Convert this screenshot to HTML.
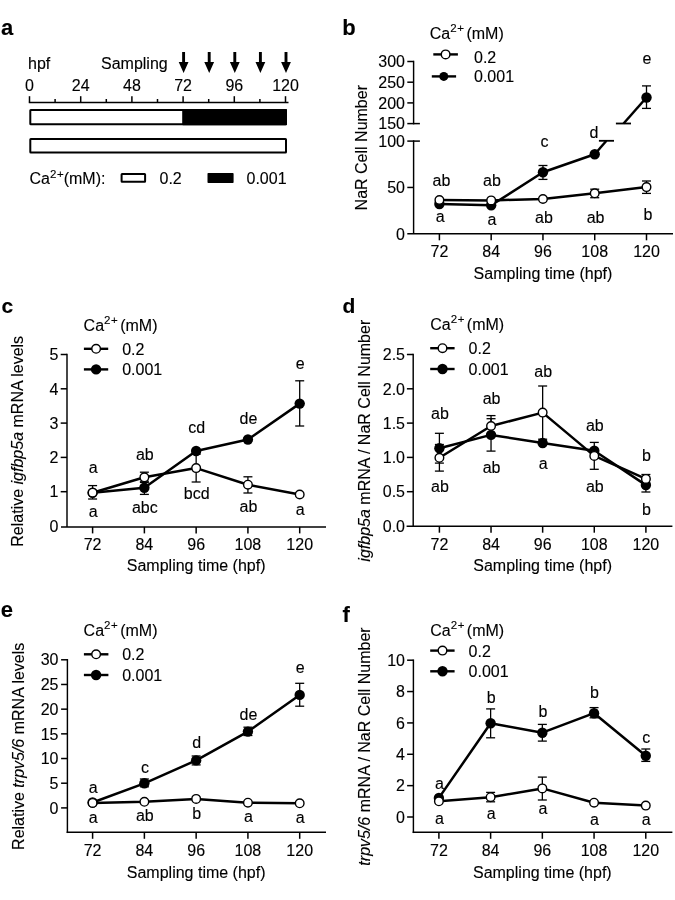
<!DOCTYPE html>
<html><head><meta charset="utf-8"><style>
html,body{margin:0;padding:0;background:#fff;}
svg{display:block;filter:blur(0.3px);}
text{fill:#000;stroke:#000;stroke-width:0.12px;}
</style></head><body>
<svg width="675" height="900" viewBox="0 0 675 900" font-family='"Liberation Sans", sans-serif'>
<rect width="675" height="900" fill="#fff"/>
<text x="1.00" y="35.10" text-anchor="start" font-size="22" font-weight="bold" >a</text>
<text x="28.00" y="69.00" text-anchor="start" font-size="16" font-weight="normal" >hpf</text>
<text x="101.00" y="69.00" text-anchor="start" font-size="16" font-weight="normal" >Sampling</text>
<path d="M182.15,52 L185.05,52 L185.05,62 L188.50,62 L183.60,73 L178.70,62 L182.15,62 Z" fill="#000"/>
<path d="M207.75,52 L210.65,52 L210.65,62 L214.10,62 L209.20,73 L204.30,62 L207.75,62 Z" fill="#000"/>
<path d="M233.35,52 L236.25,52 L236.25,62 L239.70,62 L234.80,73 L229.90,62 L233.35,62 Z" fill="#000"/>
<path d="M258.95,52 L261.85,52 L261.85,62 L265.30,62 L260.40,73 L255.50,62 L258.95,62 Z" fill="#000"/>
<path d="M284.55,52 L287.45,52 L287.45,62 L290.90,62 L286.00,73 L281.10,62 L284.55,62 Z" fill="#000"/>
<text x="29.50" y="91.00" text-anchor="middle" font-size="16" font-weight="normal" >0</text>
<text x="80.70" y="91.00" text-anchor="middle" font-size="16" font-weight="normal" >24</text>
<text x="131.90" y="91.00" text-anchor="middle" font-size="16" font-weight="normal" >48</text>
<text x="183.10" y="91.00" text-anchor="middle" font-size="16" font-weight="normal" >72</text>
<text x="234.30" y="91.00" text-anchor="middle" font-size="16" font-weight="normal" >96</text>
<text x="285.50" y="91.00" text-anchor="middle" font-size="16" font-weight="normal" >120</text>
<line x1="28.80" y1="102.50" x2="288.50" y2="102.50" stroke="#000" stroke-width="1.5"/>
<line x1="29.50" y1="96.20" x2="29.50" y2="102.50" stroke="#000" stroke-width="1.5"/>
<line x1="55.10" y1="99.00" x2="55.10" y2="102.50" stroke="#000" stroke-width="1.5"/>
<line x1="80.70" y1="96.20" x2="80.70" y2="102.50" stroke="#000" stroke-width="1.5"/>
<line x1="106.30" y1="99.00" x2="106.30" y2="102.50" stroke="#000" stroke-width="1.5"/>
<line x1="131.90" y1="96.20" x2="131.90" y2="102.50" stroke="#000" stroke-width="1.5"/>
<line x1="157.50" y1="99.00" x2="157.50" y2="102.50" stroke="#000" stroke-width="1.5"/>
<line x1="183.10" y1="96.20" x2="183.10" y2="102.50" stroke="#000" stroke-width="1.5"/>
<line x1="208.70" y1="99.00" x2="208.70" y2="102.50" stroke="#000" stroke-width="1.5"/>
<line x1="234.30" y1="96.20" x2="234.30" y2="102.50" stroke="#000" stroke-width="1.5"/>
<line x1="259.90" y1="99.00" x2="259.90" y2="102.50" stroke="#000" stroke-width="1.5"/>
<line x1="285.50" y1="96.20" x2="285.50" y2="102.50" stroke="#000" stroke-width="1.5"/>
<rect x="30.30" y="110.00" width="255.70" height="14.20" fill="#fff" stroke="#000" stroke-width="2" rx="0.5"/>
<rect x="182.2" y="109" width="104.80" height="16.2" fill="#000" rx="0.8"/>
<rect x="30.30" y="139.00" width="255.70" height="13.40" fill="#fff" stroke="#000" stroke-width="2" rx="0.5"/>
<text x="29.5" y="184.4" font-size="16">Ca<tspan font-size="11.5" dy="-6.9">2<tspan dx="0.6">+</tspan></tspan><tspan dy="6.9">(mM):</tspan></text>
<rect x="121.6" y="174" width="23.5" height="7.8" fill="#fff" stroke="#000" stroke-width="2" rx="0.5"/>
<text x="159.50" y="183.60" text-anchor="start" font-size="16" font-weight="normal" >0.2</text>
<rect x="207.5" y="173" width="26.1" height="10" fill="#000" rx="0.8"/>
<text x="246.50" y="183.60" text-anchor="start" font-size="16" font-weight="normal" >0.001</text>
<text x="342.30" y="34.90" text-anchor="start" font-size="22" font-weight="bold" >b</text>
<line x1="413.60" y1="140.35" x2="413.60" y2="233.80" stroke="#000" stroke-width="1.45"/>
<line x1="413.60" y1="60.75" x2="413.60" y2="124.35" stroke="#000" stroke-width="1.45"/>
<line x1="407.30" y1="187.45" x2="413.60" y2="187.45" stroke="#000" stroke-width="1.5"/>
<line x1="407.30" y1="102.90" x2="413.60" y2="102.90" stroke="#000" stroke-width="1.5"/>
<line x1="407.30" y1="82.20" x2="413.60" y2="82.20" stroke="#000" stroke-width="1.5"/>
<line x1="407.30" y1="61.50" x2="413.60" y2="61.50" stroke="#000" stroke-width="1.5"/>
<line x1="407.30" y1="141.10" x2="419.90" y2="141.10" stroke="#000" stroke-width="1.5"/>
<line x1="407.30" y1="123.60" x2="419.90" y2="123.60" stroke="#000" stroke-width="1.5"/>
<text x="405.00" y="239.50" text-anchor="end" font-size="16" font-weight="normal" >0</text>
<text x="405.00" y="193.15" text-anchor="end" font-size="16" font-weight="normal" >50</text>
<text x="405.00" y="146.80" text-anchor="end" font-size="16" font-weight="normal" >100</text>
<text x="405.00" y="129.30" text-anchor="end" font-size="16" font-weight="normal" >150</text>
<text x="405.00" y="108.60" text-anchor="end" font-size="16" font-weight="normal" >200</text>
<text x="405.00" y="87.90" text-anchor="end" font-size="16" font-weight="normal" >250</text>
<text x="405.00" y="67.20" text-anchor="end" font-size="16" font-weight="normal" >300</text>
<line x1="407.30" y1="233.80" x2="673.00" y2="233.80" stroke="#000" stroke-width="1.45"/>
<line x1="439.40" y1="233.80" x2="439.40" y2="240.30" stroke="#000" stroke-width="1.5"/>
<text x="439.40" y="257.00" text-anchor="middle" font-size="16" font-weight="normal" >72</text>
<line x1="491.17" y1="233.80" x2="491.17" y2="240.30" stroke="#000" stroke-width="1.5"/>
<text x="491.17" y="257.00" text-anchor="middle" font-size="16" font-weight="normal" >84</text>
<line x1="542.95" y1="233.80" x2="542.95" y2="240.30" stroke="#000" stroke-width="1.5"/>
<text x="542.95" y="257.00" text-anchor="middle" font-size="16" font-weight="normal" >96</text>
<line x1="594.72" y1="233.80" x2="594.72" y2="240.30" stroke="#000" stroke-width="1.5"/>
<text x="594.72" y="257.00" text-anchor="middle" font-size="16" font-weight="normal" >108</text>
<line x1="646.50" y1="233.80" x2="646.50" y2="240.30" stroke="#000" stroke-width="1.5"/>
<text x="646.50" y="257.00" text-anchor="middle" font-size="16" font-weight="normal" >120</text>
<text x="542.95" y="278.70" text-anchor="middle" font-size="16" font-weight="normal" >Sampling time (hpf)</text>
<text transform="translate(366.8,147.7) rotate(-90)" text-anchor="middle" font-size="16">NaR Cell Number</text>
<text x="429.80" y="38.70" font-size="16">Ca<tspan font-size="11.5" dy="-6.9">2<tspan dx="0.6">+</tspan></tspan><tspan dy="6.9" dx="-2"> (mM)</tspan></text>
<line x1="433.30" y1="54.40" x2="457.90" y2="54.40" stroke="#000" stroke-width="2.4"/>
<circle cx="445.60" cy="54.40" r="4.30" fill="#fff" stroke="#000" stroke-width="1.4"/>
<line x1="431.80" y1="76.40" x2="456.10" y2="76.40" stroke="#000" stroke-width="2.4"/>
<circle cx="443.80" cy="76.40" r="4.50" fill="#000"/>
<text x="474.00" y="62.70" text-anchor="start" font-size="16" font-weight="normal" >0.2</text>
<text x="474.00" y="82.20" text-anchor="start" font-size="16" font-weight="normal" >0.001</text>
<polyline points="439.40,204.00 491.17,205.30 542.95,172.30 594.72,154.20" fill="none" stroke="#000" stroke-width="2.5" stroke-linejoin="round"/>
<line x1="594.72" y1="154.20" x2="606.40" y2="140.80" stroke="#000" stroke-width="2.5"/>
<line x1="623.60" y1="123.50" x2="646.50" y2="97.50" stroke="#000" stroke-width="2.5"/>
<line x1="598.90" y1="140.80" x2="614.00" y2="140.80" stroke="#000" stroke-width="1.8"/>
<line x1="615.90" y1="123.50" x2="631.00" y2="123.50" stroke="#000" stroke-width="1.8"/>
<polyline points="439.40,200.00 491.17,200.40 542.95,199.00 594.72,193.30 646.50,187.10" fill="none" stroke="#000" stroke-width="2.5" stroke-linejoin="round"/>
<line x1="542.95" y1="165.50" x2="542.95" y2="179.40" stroke="#000" stroke-width="1.3"/>
<line x1="538.45" y1="165.50" x2="547.45" y2="165.50" stroke="#000" stroke-width="1.3"/>
<line x1="538.45" y1="179.40" x2="547.45" y2="179.40" stroke="#000" stroke-width="1.3"/>
<line x1="646.50" y1="85.90" x2="646.50" y2="108.40" stroke="#000" stroke-width="1.3"/>
<line x1="642.00" y1="85.90" x2="651.00" y2="85.90" stroke="#000" stroke-width="1.3"/>
<line x1="642.00" y1="108.40" x2="651.00" y2="108.40" stroke="#000" stroke-width="1.3"/>
<line x1="594.72" y1="189.20" x2="594.72" y2="197.70" stroke="#000" stroke-width="1.3"/>
<line x1="590.22" y1="189.20" x2="599.22" y2="189.20" stroke="#000" stroke-width="1.3"/>
<line x1="590.22" y1="197.70" x2="599.22" y2="197.70" stroke="#000" stroke-width="1.3"/>
<line x1="646.50" y1="181.00" x2="646.50" y2="193.40" stroke="#000" stroke-width="1.3"/>
<line x1="642.00" y1="181.00" x2="651.00" y2="181.00" stroke="#000" stroke-width="1.3"/>
<line x1="642.00" y1="193.40" x2="651.00" y2="193.40" stroke="#000" stroke-width="1.3"/>
<circle cx="439.40" cy="204.00" r="5.20" fill="#000"/>
<circle cx="491.17" cy="205.30" r="5.20" fill="#000"/>
<circle cx="542.95" cy="172.30" r="5.20" fill="#000"/>
<circle cx="594.72" cy="154.20" r="5.20" fill="#000"/>
<circle cx="646.50" cy="97.50" r="5.20" fill="#000"/>
<circle cx="439.40" cy="200.00" r="4.30" fill="#fff" stroke="#000" stroke-width="1.4"/>
<circle cx="491.17" cy="200.40" r="4.30" fill="#fff" stroke="#000" stroke-width="1.4"/>
<circle cx="542.95" cy="199.00" r="4.30" fill="#fff" stroke="#000" stroke-width="1.4"/>
<circle cx="594.72" cy="193.30" r="4.30" fill="#fff" stroke="#000" stroke-width="1.4"/>
<circle cx="646.50" cy="187.10" r="4.30" fill="#fff" stroke="#000" stroke-width="1.4"/>
<text x="441.40" y="186.20" text-anchor="middle" font-size="16" font-weight="normal" >ab</text>
<text x="491.97" y="186.20" text-anchor="middle" font-size="16" font-weight="normal" >ab</text>
<text x="544.45" y="147.20" text-anchor="middle" font-size="16" font-weight="normal" >c</text>
<text x="594.02" y="137.80" text-anchor="middle" font-size="16" font-weight="normal" >d</text>
<text x="647.00" y="64.20" text-anchor="middle" font-size="16" font-weight="normal" >e</text>
<text x="440.10" y="222.10" text-anchor="middle" font-size="16" font-weight="normal" >a</text>
<text x="491.87" y="224.50" text-anchor="middle" font-size="16" font-weight="normal" >a</text>
<text x="543.95" y="223.00" text-anchor="middle" font-size="16" font-weight="normal" >ab</text>
<text x="595.62" y="222.70" text-anchor="middle" font-size="16" font-weight="normal" >ab</text>
<text x="648.00" y="220.40" text-anchor="middle" font-size="16" font-weight="normal" >b</text>
<text x="1.60" y="313.10" text-anchor="start" font-size="21" font-weight="bold" >c</text>
<line x1="67.00" y1="353.75" x2="67.00" y2="526.90" stroke="#000" stroke-width="1.45"/>
<line x1="60.70" y1="491.70" x2="67.00" y2="491.70" stroke="#000" stroke-width="1.5"/>
<text x="58.50" y="497.40" text-anchor="end" font-size="16" font-weight="normal" >1</text>
<line x1="60.70" y1="457.40" x2="67.00" y2="457.40" stroke="#000" stroke-width="1.5"/>
<text x="58.50" y="463.10" text-anchor="end" font-size="16" font-weight="normal" >2</text>
<line x1="60.70" y1="423.10" x2="67.00" y2="423.10" stroke="#000" stroke-width="1.5"/>
<text x="58.50" y="428.80" text-anchor="end" font-size="16" font-weight="normal" >3</text>
<line x1="60.70" y1="388.80" x2="67.00" y2="388.80" stroke="#000" stroke-width="1.5"/>
<text x="58.50" y="394.50" text-anchor="end" font-size="16" font-weight="normal" >4</text>
<line x1="60.70" y1="354.50" x2="67.00" y2="354.50" stroke="#000" stroke-width="1.5"/>
<text x="58.50" y="360.20" text-anchor="end" font-size="16" font-weight="normal" >5</text>
<text x="58.50" y="531.70" text-anchor="end" font-size="16" font-weight="normal" >0</text>
<line x1="61.00" y1="526.90" x2="326.00" y2="526.90" stroke="#000" stroke-width="1.45"/>
<line x1="92.60" y1="526.90" x2="92.60" y2="533.40" stroke="#000" stroke-width="1.5"/>
<text x="92.60" y="550.20" text-anchor="middle" font-size="16" font-weight="normal" >72</text>
<line x1="144.38" y1="526.90" x2="144.38" y2="533.40" stroke="#000" stroke-width="1.5"/>
<text x="144.38" y="550.20" text-anchor="middle" font-size="16" font-weight="normal" >84</text>
<line x1="196.15" y1="526.90" x2="196.15" y2="533.40" stroke="#000" stroke-width="1.5"/>
<text x="196.15" y="550.20" text-anchor="middle" font-size="16" font-weight="normal" >96</text>
<line x1="247.92" y1="526.90" x2="247.92" y2="533.40" stroke="#000" stroke-width="1.5"/>
<text x="247.92" y="550.20" text-anchor="middle" font-size="16" font-weight="normal" >108</text>
<line x1="299.70" y1="526.90" x2="299.70" y2="533.40" stroke="#000" stroke-width="1.5"/>
<text x="299.70" y="550.20" text-anchor="middle" font-size="16" font-weight="normal" >120</text>
<text x="196.15" y="571.10" text-anchor="middle" font-size="16" font-weight="normal" >Sampling time (hpf)</text>
<text transform="translate(22.9,441.3) rotate(-90)" text-anchor="middle" font-size="16">Relative <tspan font-style="italic">igfbp5a</tspan> mRNA levels</text>
<text x="83.60" y="330.70" font-size="16">Ca<tspan font-size="11.5" dy="-6.9">2<tspan dx="0.6">+</tspan></tspan><tspan dy="6.9" dx="-2"> (mM)</tspan></text>
<line x1="83.90" y1="348.80" x2="108.20" y2="348.80" stroke="#000" stroke-width="2.4"/>
<circle cx="96.10" cy="348.80" r="4.30" fill="#fff" stroke="#000" stroke-width="1.4"/>
<line x1="83.90" y1="369.40" x2="108.20" y2="369.40" stroke="#000" stroke-width="2.4"/>
<circle cx="96.10" cy="369.40" r="5.20" fill="#000"/>
<text x="122.20" y="354.70" text-anchor="start" font-size="16" font-weight="normal" >0.2</text>
<text x="122.20" y="375.00" text-anchor="start" font-size="16" font-weight="normal" >0.001</text>
<polyline points="92.60,492.70 144.38,487.80 196.15,451.00 247.92,439.50 299.70,403.60" fill="none" stroke="#000" stroke-width="2.5" stroke-linejoin="round"/>
<polyline points="92.60,492.70 144.38,477.30 196.15,468.10 247.92,484.70 299.70,494.50" fill="none" stroke="#000" stroke-width="2.5" stroke-linejoin="round"/>
<line x1="144.38" y1="481.20" x2="144.38" y2="494.40" stroke="#000" stroke-width="1.3"/>
<line x1="139.88" y1="481.20" x2="148.88" y2="481.20" stroke="#000" stroke-width="1.3"/>
<line x1="139.88" y1="494.40" x2="148.88" y2="494.40" stroke="#000" stroke-width="1.3"/>
<line x1="299.70" y1="380.80" x2="299.70" y2="426.00" stroke="#000" stroke-width="1.3"/>
<line x1="295.20" y1="380.80" x2="304.20" y2="380.80" stroke="#000" stroke-width="1.3"/>
<line x1="295.20" y1="426.00" x2="304.20" y2="426.00" stroke="#000" stroke-width="1.3"/>
<line x1="92.60" y1="485.60" x2="92.60" y2="499.00" stroke="#000" stroke-width="1.3"/>
<line x1="88.10" y1="485.60" x2="97.10" y2="485.60" stroke="#000" stroke-width="1.3"/>
<line x1="88.10" y1="499.00" x2="97.10" y2="499.00" stroke="#000" stroke-width="1.3"/>
<line x1="144.38" y1="472.20" x2="144.38" y2="482.40" stroke="#000" stroke-width="1.3"/>
<line x1="139.88" y1="472.20" x2="148.88" y2="472.20" stroke="#000" stroke-width="1.3"/>
<line x1="139.88" y1="482.40" x2="148.88" y2="482.40" stroke="#000" stroke-width="1.3"/>
<line x1="196.15" y1="454.20" x2="196.15" y2="482.00" stroke="#000" stroke-width="1.3"/>
<line x1="191.65" y1="454.20" x2="200.65" y2="454.20" stroke="#000" stroke-width="1.3"/>
<line x1="191.65" y1="482.00" x2="200.65" y2="482.00" stroke="#000" stroke-width="1.3"/>
<line x1="247.92" y1="476.80" x2="247.92" y2="493.00" stroke="#000" stroke-width="1.3"/>
<line x1="243.42" y1="476.80" x2="252.42" y2="476.80" stroke="#000" stroke-width="1.3"/>
<line x1="243.42" y1="493.00" x2="252.42" y2="493.00" stroke="#000" stroke-width="1.3"/>
<circle cx="92.60" cy="492.70" r="5.20" fill="#000"/>
<circle cx="144.38" cy="487.80" r="5.20" fill="#000"/>
<circle cx="196.15" cy="451.00" r="5.20" fill="#000"/>
<circle cx="247.92" cy="439.50" r="5.20" fill="#000"/>
<circle cx="299.70" cy="403.60" r="5.20" fill="#000"/>
<circle cx="92.60" cy="492.70" r="4.30" fill="#fff" stroke="#000" stroke-width="1.4"/>
<circle cx="144.38" cy="477.30" r="4.30" fill="#fff" stroke="#000" stroke-width="1.4"/>
<circle cx="196.15" cy="468.10" r="4.30" fill="#fff" stroke="#000" stroke-width="1.4"/>
<circle cx="247.92" cy="484.70" r="4.30" fill="#fff" stroke="#000" stroke-width="1.4"/>
<circle cx="299.70" cy="494.50" r="4.30" fill="#fff" stroke="#000" stroke-width="1.4"/>
<text x="93.10" y="472.70" text-anchor="middle" font-size="16" font-weight="normal" >a</text>
<text x="144.88" y="460.40" text-anchor="middle" font-size="16" font-weight="normal" >ab</text>
<text x="196.65" y="433.30" text-anchor="middle" font-size="16" font-weight="normal" >cd</text>
<text x="248.42" y="424.40" text-anchor="middle" font-size="16" font-weight="normal" >de</text>
<text x="300.20" y="368.70" text-anchor="middle" font-size="16" font-weight="normal" >e</text>
<text x="93.10" y="517.30" text-anchor="middle" font-size="16" font-weight="normal" >a</text>
<text x="144.88" y="512.90" text-anchor="middle" font-size="16" font-weight="normal" >abc</text>
<text x="196.65" y="498.80" text-anchor="middle" font-size="16" font-weight="normal" >bcd</text>
<text x="248.42" y="511.70" text-anchor="middle" font-size="16" font-weight="normal" >ab</text>
<text x="300.20" y="514.60" text-anchor="middle" font-size="16" font-weight="normal" >a</text>
<text x="342.60" y="313.10" text-anchor="start" font-size="21" font-weight="bold" >d</text>
<line x1="413.20" y1="353.75" x2="413.20" y2="526.20" stroke="#000" stroke-width="1.45"/>
<line x1="406.90" y1="491.70" x2="413.20" y2="491.70" stroke="#000" stroke-width="1.5"/>
<line x1="406.90" y1="457.40" x2="413.20" y2="457.40" stroke="#000" stroke-width="1.5"/>
<line x1="406.90" y1="423.10" x2="413.20" y2="423.10" stroke="#000" stroke-width="1.5"/>
<line x1="406.90" y1="388.80" x2="413.20" y2="388.80" stroke="#000" stroke-width="1.5"/>
<line x1="406.90" y1="354.50" x2="413.20" y2="354.50" stroke="#000" stroke-width="1.5"/>
<text x="405.00" y="531.70" text-anchor="end" font-size="16" font-weight="normal" >0.0</text>
<text x="405.00" y="497.40" text-anchor="end" font-size="16" font-weight="normal" >0.5</text>
<text x="405.00" y="463.10" text-anchor="end" font-size="16" font-weight="normal" >1.0</text>
<text x="405.00" y="428.80" text-anchor="end" font-size="16" font-weight="normal" >1.5</text>
<text x="405.00" y="394.50" text-anchor="end" font-size="16" font-weight="normal" >2.0</text>
<text x="405.00" y="360.20" text-anchor="end" font-size="16" font-weight="normal" >2.5</text>
<line x1="406.60" y1="526.20" x2="672.40" y2="526.20" stroke="#000" stroke-width="1.45"/>
<line x1="439.40" y1="526.20" x2="439.40" y2="532.70" stroke="#000" stroke-width="1.5"/>
<text x="439.40" y="549.60" text-anchor="middle" font-size="16" font-weight="normal" >72</text>
<line x1="491.03" y1="526.20" x2="491.03" y2="532.70" stroke="#000" stroke-width="1.5"/>
<text x="491.03" y="549.60" text-anchor="middle" font-size="16" font-weight="normal" >84</text>
<line x1="542.65" y1="526.20" x2="542.65" y2="532.70" stroke="#000" stroke-width="1.5"/>
<text x="542.65" y="549.60" text-anchor="middle" font-size="16" font-weight="normal" >96</text>
<line x1="594.28" y1="526.20" x2="594.28" y2="532.70" stroke="#000" stroke-width="1.5"/>
<text x="594.28" y="549.60" text-anchor="middle" font-size="16" font-weight="normal" >108</text>
<line x1="645.90" y1="526.20" x2="645.90" y2="532.70" stroke="#000" stroke-width="1.5"/>
<text x="645.90" y="549.60" text-anchor="middle" font-size="16" font-weight="normal" >120</text>
<text x="542.65" y="570.50" text-anchor="middle" font-size="16" font-weight="normal" >Sampling time (hpf)</text>
<text transform="translate(370,440.7) rotate(-90)" text-anchor="middle" font-size="16"><tspan font-style="italic">igfbp5a</tspan> mRNA / NaR Cell Number</text>
<text x="430.20" y="330.20" font-size="16">Ca<tspan font-size="11.5" dy="-6.9">2<tspan dx="0.6">+</tspan></tspan><tspan dy="6.9" dx="-2"> (mM)</tspan></text>
<line x1="430.20" y1="348.20" x2="454.60" y2="348.20" stroke="#000" stroke-width="2.4"/>
<circle cx="442.50" cy="348.20" r="4.30" fill="#fff" stroke="#000" stroke-width="1.4"/>
<line x1="430.20" y1="369.00" x2="454.60" y2="369.00" stroke="#000" stroke-width="2.4"/>
<circle cx="442.50" cy="369.00" r="5.20" fill="#000"/>
<text x="468.60" y="353.90" text-anchor="start" font-size="16" font-weight="normal" >0.2</text>
<text x="468.60" y="374.60" text-anchor="start" font-size="16" font-weight="normal" >0.001</text>
<polyline points="439.40,448.20 491.03,434.90 542.65,443.00 594.28,450.70 645.90,485.10" fill="none" stroke="#000" stroke-width="2.5" stroke-linejoin="round"/>
<polyline points="439.40,457.80 491.03,426.00 542.65,412.60 594.28,455.90 645.90,478.90" fill="none" stroke="#000" stroke-width="2.5" stroke-linejoin="round"/>
<line x1="439.40" y1="433.30" x2="439.40" y2="463.10" stroke="#000" stroke-width="1.3"/>
<line x1="434.90" y1="433.30" x2="443.90" y2="433.30" stroke="#000" stroke-width="1.3"/>
<line x1="434.90" y1="463.10" x2="443.90" y2="463.10" stroke="#000" stroke-width="1.3"/>
<line x1="491.03" y1="418.70" x2="491.03" y2="451.10" stroke="#000" stroke-width="1.3"/>
<line x1="486.53" y1="418.70" x2="495.53" y2="418.70" stroke="#000" stroke-width="1.3"/>
<line x1="486.53" y1="451.10" x2="495.53" y2="451.10" stroke="#000" stroke-width="1.3"/>
<line x1="645.90" y1="479.00" x2="645.90" y2="492.00" stroke="#000" stroke-width="1.3"/>
<line x1="641.40" y1="479.00" x2="650.40" y2="479.00" stroke="#000" stroke-width="1.3"/>
<line x1="641.40" y1="492.00" x2="650.40" y2="492.00" stroke="#000" stroke-width="1.3"/>
<line x1="439.40" y1="444.50" x2="439.40" y2="471.10" stroke="#000" stroke-width="1.3"/>
<line x1="434.90" y1="444.50" x2="443.90" y2="444.50" stroke="#000" stroke-width="1.3"/>
<line x1="434.90" y1="471.10" x2="443.90" y2="471.10" stroke="#000" stroke-width="1.3"/>
<line x1="491.03" y1="415.60" x2="491.03" y2="436.40" stroke="#000" stroke-width="1.3"/>
<line x1="486.53" y1="415.60" x2="495.53" y2="415.60" stroke="#000" stroke-width="1.3"/>
<line x1="486.53" y1="436.40" x2="495.53" y2="436.40" stroke="#000" stroke-width="1.3"/>
<line x1="542.65" y1="386.00" x2="542.65" y2="439.20" stroke="#000" stroke-width="1.3"/>
<line x1="538.15" y1="386.00" x2="547.15" y2="386.00" stroke="#000" stroke-width="1.3"/>
<line x1="538.15" y1="439.20" x2="547.15" y2="439.20" stroke="#000" stroke-width="1.3"/>
<line x1="594.28" y1="442.40" x2="594.28" y2="469.30" stroke="#000" stroke-width="1.3"/>
<line x1="589.78" y1="442.40" x2="598.78" y2="442.40" stroke="#000" stroke-width="1.3"/>
<line x1="589.78" y1="469.30" x2="598.78" y2="469.30" stroke="#000" stroke-width="1.3"/>
<line x1="645.90" y1="474.50" x2="645.90" y2="483.00" stroke="#000" stroke-width="1.3"/>
<line x1="641.40" y1="474.50" x2="650.40" y2="474.50" stroke="#000" stroke-width="1.3"/>
<line x1="641.40" y1="483.00" x2="650.40" y2="483.00" stroke="#000" stroke-width="1.3"/>
<circle cx="439.40" cy="448.20" r="5.20" fill="#000"/>
<circle cx="491.03" cy="434.90" r="5.20" fill="#000"/>
<circle cx="542.65" cy="443.00" r="5.20" fill="#000"/>
<circle cx="594.28" cy="450.70" r="5.20" fill="#000"/>
<circle cx="645.90" cy="485.10" r="5.20" fill="#000"/>
<circle cx="439.40" cy="457.80" r="4.30" fill="#fff" stroke="#000" stroke-width="1.4"/>
<circle cx="491.03" cy="426.00" r="4.30" fill="#fff" stroke="#000" stroke-width="1.4"/>
<circle cx="542.65" cy="412.60" r="4.30" fill="#fff" stroke="#000" stroke-width="1.4"/>
<circle cx="594.28" cy="455.90" r="4.30" fill="#fff" stroke="#000" stroke-width="1.4"/>
<circle cx="645.90" cy="478.90" r="4.30" fill="#fff" stroke="#000" stroke-width="1.4"/>
<text x="439.90" y="418.90" text-anchor="middle" font-size="16" font-weight="normal" >ab</text>
<text x="491.53" y="404.40" text-anchor="middle" font-size="16" font-weight="normal" >ab</text>
<text x="543.15" y="376.70" text-anchor="middle" font-size="16" font-weight="normal" >ab</text>
<text x="594.78" y="430.50" text-anchor="middle" font-size="16" font-weight="normal" >ab</text>
<text x="646.40" y="460.60" text-anchor="middle" font-size="16" font-weight="normal" >b</text>
<text x="439.90" y="491.80" text-anchor="middle" font-size="16" font-weight="normal" >ab</text>
<text x="491.53" y="473.30" text-anchor="middle" font-size="16" font-weight="normal" >ab</text>
<text x="543.15" y="468.90" text-anchor="middle" font-size="16" font-weight="normal" >a</text>
<text x="594.78" y="491.70" text-anchor="middle" font-size="16" font-weight="normal" >ab</text>
<text x="646.40" y="514.60" text-anchor="middle" font-size="16" font-weight="normal" >b</text>
<text x="0.80" y="617.40" text-anchor="start" font-size="22" font-weight="bold" >e</text>
<line x1="67.40" y1="659.04" x2="67.40" y2="833.05" stroke="#000" stroke-width="1.45"/>
<line x1="61.10" y1="807.90" x2="67.40" y2="807.90" stroke="#000" stroke-width="1.5"/>
<text x="58.50" y="813.60" text-anchor="end" font-size="16" font-weight="normal" >0</text>
<line x1="61.10" y1="783.21" x2="67.40" y2="783.21" stroke="#000" stroke-width="1.5"/>
<text x="58.50" y="788.91" text-anchor="end" font-size="16" font-weight="normal" >5</text>
<line x1="61.10" y1="758.53" x2="67.40" y2="758.53" stroke="#000" stroke-width="1.5"/>
<text x="58.50" y="764.23" text-anchor="end" font-size="16" font-weight="normal" >10</text>
<line x1="61.10" y1="733.85" x2="67.40" y2="733.85" stroke="#000" stroke-width="1.5"/>
<text x="58.50" y="739.55" text-anchor="end" font-size="16" font-weight="normal" >15</text>
<line x1="61.10" y1="709.16" x2="67.40" y2="709.16" stroke="#000" stroke-width="1.5"/>
<text x="58.50" y="714.86" text-anchor="end" font-size="16" font-weight="normal" >20</text>
<line x1="61.10" y1="684.47" x2="67.40" y2="684.47" stroke="#000" stroke-width="1.5"/>
<text x="58.50" y="690.17" text-anchor="end" font-size="16" font-weight="normal" >25</text>
<line x1="61.10" y1="659.79" x2="67.40" y2="659.79" stroke="#000" stroke-width="1.5"/>
<text x="58.50" y="665.49" text-anchor="end" font-size="16" font-weight="normal" >30</text>
<line x1="66.65" y1="832.30" x2="326.00" y2="832.30" stroke="#000" stroke-width="1.45"/>
<line x1="92.60" y1="832.30" x2="92.60" y2="838.80" stroke="#000" stroke-width="1.5"/>
<text x="92.60" y="856.30" text-anchor="middle" font-size="16" font-weight="normal" >72</text>
<line x1="144.38" y1="832.30" x2="144.38" y2="838.80" stroke="#000" stroke-width="1.5"/>
<text x="144.38" y="856.30" text-anchor="middle" font-size="16" font-weight="normal" >84</text>
<line x1="196.15" y1="832.30" x2="196.15" y2="838.80" stroke="#000" stroke-width="1.5"/>
<text x="196.15" y="856.30" text-anchor="middle" font-size="16" font-weight="normal" >96</text>
<line x1="247.92" y1="832.30" x2="247.92" y2="838.80" stroke="#000" stroke-width="1.5"/>
<text x="247.92" y="856.30" text-anchor="middle" font-size="16" font-weight="normal" >108</text>
<line x1="299.70" y1="832.30" x2="299.70" y2="838.80" stroke="#000" stroke-width="1.5"/>
<text x="299.70" y="856.30" text-anchor="middle" font-size="16" font-weight="normal" >120</text>
<text x="196.15" y="877.50" text-anchor="middle" font-size="16" font-weight="normal" >Sampling time (hpf)</text>
<text transform="translate(24,746.3) rotate(-90)" text-anchor="middle" font-size="16">Relative <tspan font-style="italic">trpv5/6</tspan> mRNA levels</text>
<text x="83.60" y="635.90" font-size="16">Ca<tspan font-size="11.5" dy="-6.9">2<tspan dx="0.6">+</tspan></tspan><tspan dy="6.9" dx="-2"> (mM)</tspan></text>
<line x1="83.90" y1="654.30" x2="108.40" y2="654.30" stroke="#000" stroke-width="2.4"/>
<circle cx="96.10" cy="654.30" r="4.30" fill="#fff" stroke="#000" stroke-width="1.4"/>
<line x1="83.90" y1="675.00" x2="108.40" y2="675.00" stroke="#000" stroke-width="2.4"/>
<circle cx="96.10" cy="675.00" r="5.20" fill="#000"/>
<text x="122.20" y="659.70" text-anchor="start" font-size="16" font-weight="normal" >0.2</text>
<text x="122.20" y="680.50" text-anchor="start" font-size="16" font-weight="normal" >0.001</text>
<polyline points="92.60,802.50 144.38,783.30 196.15,760.40 247.92,731.60 299.70,694.90" fill="none" stroke="#000" stroke-width="2.5" stroke-linejoin="round"/>
<polyline points="92.60,802.90 144.38,801.80 196.15,798.90 247.92,802.70 299.70,803.30" fill="none" stroke="#000" stroke-width="2.5" stroke-linejoin="round"/>
<line x1="144.38" y1="779.00" x2="144.38" y2="786.80" stroke="#000" stroke-width="1.3"/>
<line x1="139.88" y1="779.00" x2="148.88" y2="779.00" stroke="#000" stroke-width="1.3"/>
<line x1="139.88" y1="786.80" x2="148.88" y2="786.80" stroke="#000" stroke-width="1.3"/>
<line x1="196.15" y1="756.00" x2="196.15" y2="764.90" stroke="#000" stroke-width="1.3"/>
<line x1="191.65" y1="756.00" x2="200.65" y2="756.00" stroke="#000" stroke-width="1.3"/>
<line x1="191.65" y1="764.90" x2="200.65" y2="764.90" stroke="#000" stroke-width="1.3"/>
<line x1="247.92" y1="727.20" x2="247.92" y2="735.50" stroke="#000" stroke-width="1.3"/>
<line x1="243.42" y1="727.20" x2="252.42" y2="727.20" stroke="#000" stroke-width="1.3"/>
<line x1="243.42" y1="735.50" x2="252.42" y2="735.50" stroke="#000" stroke-width="1.3"/>
<line x1="299.70" y1="683.30" x2="299.70" y2="706.20" stroke="#000" stroke-width="1.3"/>
<line x1="295.20" y1="683.30" x2="304.20" y2="683.30" stroke="#000" stroke-width="1.3"/>
<line x1="295.20" y1="706.20" x2="304.20" y2="706.20" stroke="#000" stroke-width="1.3"/>
<circle cx="92.60" cy="802.50" r="5.20" fill="#000"/>
<circle cx="144.38" cy="783.30" r="5.20" fill="#000"/>
<circle cx="196.15" cy="760.40" r="5.20" fill="#000"/>
<circle cx="247.92" cy="731.60" r="5.20" fill="#000"/>
<circle cx="299.70" cy="694.90" r="5.20" fill="#000"/>
<circle cx="92.60" cy="802.90" r="4.30" fill="#fff" stroke="#000" stroke-width="1.4"/>
<circle cx="144.38" cy="801.80" r="4.30" fill="#fff" stroke="#000" stroke-width="1.4"/>
<circle cx="196.15" cy="798.90" r="4.30" fill="#fff" stroke="#000" stroke-width="1.4"/>
<circle cx="247.92" cy="802.70" r="4.30" fill="#fff" stroke="#000" stroke-width="1.4"/>
<circle cx="299.70" cy="803.30" r="4.30" fill="#fff" stroke="#000" stroke-width="1.4"/>
<text x="93.10" y="793.30" text-anchor="middle" font-size="16" font-weight="normal" >a</text>
<text x="144.88" y="773.30" text-anchor="middle" font-size="16" font-weight="normal" >c</text>
<text x="196.65" y="748.40" text-anchor="middle" font-size="16" font-weight="normal" >d</text>
<text x="248.42" y="720.00" text-anchor="middle" font-size="16" font-weight="normal" >de</text>
<text x="300.20" y="673.30" text-anchor="middle" font-size="16" font-weight="normal" >e</text>
<text x="93.10" y="822.70" text-anchor="middle" font-size="16" font-weight="normal" >a</text>
<text x="144.88" y="821.10" text-anchor="middle" font-size="16" font-weight="normal" >ab</text>
<text x="196.65" y="819.20" text-anchor="middle" font-size="16" font-weight="normal" >b</text>
<text x="248.42" y="821.80" text-anchor="middle" font-size="16" font-weight="normal" >a</text>
<text x="300.20" y="822.90" text-anchor="middle" font-size="16" font-weight="normal" >a</text>
<text x="342.60" y="621.80" text-anchor="start" font-size="22" font-weight="bold" >f</text>
<line x1="413.40" y1="659.45" x2="413.40" y2="833.05" stroke="#000" stroke-width="1.45"/>
<line x1="407.10" y1="817.00" x2="413.40" y2="817.00" stroke="#000" stroke-width="1.5"/>
<text x="405.00" y="822.70" text-anchor="end" font-size="16" font-weight="normal" >0</text>
<line x1="407.10" y1="785.64" x2="413.40" y2="785.64" stroke="#000" stroke-width="1.5"/>
<text x="405.00" y="791.34" text-anchor="end" font-size="16" font-weight="normal" >2</text>
<line x1="407.10" y1="754.28" x2="413.40" y2="754.28" stroke="#000" stroke-width="1.5"/>
<text x="405.00" y="759.98" text-anchor="end" font-size="16" font-weight="normal" >4</text>
<line x1="407.10" y1="722.92" x2="413.40" y2="722.92" stroke="#000" stroke-width="1.5"/>
<text x="405.00" y="728.62" text-anchor="end" font-size="16" font-weight="normal" >6</text>
<line x1="407.10" y1="691.56" x2="413.40" y2="691.56" stroke="#000" stroke-width="1.5"/>
<text x="405.00" y="697.26" text-anchor="end" font-size="16" font-weight="normal" >8</text>
<line x1="407.10" y1="660.20" x2="413.40" y2="660.20" stroke="#000" stroke-width="1.5"/>
<text x="405.00" y="665.90" text-anchor="end" font-size="16" font-weight="normal" >10</text>
<line x1="412.65" y1="832.30" x2="672.40" y2="832.30" stroke="#000" stroke-width="1.45"/>
<line x1="438.90" y1="832.30" x2="438.90" y2="838.80" stroke="#000" stroke-width="1.5"/>
<text x="438.90" y="856.30" text-anchor="middle" font-size="16" font-weight="normal" >72</text>
<line x1="490.62" y1="832.30" x2="490.62" y2="838.80" stroke="#000" stroke-width="1.5"/>
<text x="490.62" y="856.30" text-anchor="middle" font-size="16" font-weight="normal" >84</text>
<line x1="542.34" y1="832.30" x2="542.34" y2="838.80" stroke="#000" stroke-width="1.5"/>
<text x="542.34" y="856.30" text-anchor="middle" font-size="16" font-weight="normal" >96</text>
<line x1="594.06" y1="832.30" x2="594.06" y2="838.80" stroke="#000" stroke-width="1.5"/>
<text x="594.06" y="856.30" text-anchor="middle" font-size="16" font-weight="normal" >108</text>
<line x1="645.78" y1="832.30" x2="645.78" y2="838.80" stroke="#000" stroke-width="1.5"/>
<text x="645.78" y="856.30" text-anchor="middle" font-size="16" font-weight="normal" >120</text>
<text x="542.34" y="877.50" text-anchor="middle" font-size="16" font-weight="normal" >Sampling time (hpf)</text>
<text transform="translate(370.4,746.5) rotate(-90)" text-anchor="middle" font-size="16"><tspan font-style="italic">trpv5/6</tspan> mRNA / NaR Cell Number</text>
<text x="430.20" y="635.90" font-size="16">Ca<tspan font-size="11.5" dy="-6.9">2<tspan dx="0.6">+</tspan></tspan><tspan dy="6.9" dx="-2"> (mM)</tspan></text>
<line x1="430.20" y1="650.60" x2="454.60" y2="650.60" stroke="#000" stroke-width="2.4"/>
<circle cx="442.50" cy="650.60" r="4.30" fill="#fff" stroke="#000" stroke-width="1.4"/>
<line x1="430.20" y1="671.30" x2="454.60" y2="671.30" stroke="#000" stroke-width="2.4"/>
<circle cx="442.50" cy="671.30" r="5.20" fill="#000"/>
<text x="468.60" y="656.50" text-anchor="start" font-size="16" font-weight="normal" >0.2</text>
<text x="468.60" y="676.50" text-anchor="start" font-size="16" font-weight="normal" >0.001</text>
<polyline points="438.90,797.90 490.62,723.30 542.34,732.70 594.06,713.20 645.78,755.80" fill="none" stroke="#000" stroke-width="2.5" stroke-linejoin="round"/>
<polyline points="438.90,801.30 490.62,797.20 542.34,788.40 594.06,802.70 645.78,805.60" fill="none" stroke="#000" stroke-width="2.5" stroke-linejoin="round"/>
<line x1="490.62" y1="708.90" x2="490.62" y2="737.80" stroke="#000" stroke-width="1.3"/>
<line x1="486.12" y1="708.90" x2="495.12" y2="708.90" stroke="#000" stroke-width="1.3"/>
<line x1="486.12" y1="737.80" x2="495.12" y2="737.80" stroke="#000" stroke-width="1.3"/>
<line x1="542.34" y1="724.40" x2="542.34" y2="741.10" stroke="#000" stroke-width="1.3"/>
<line x1="537.84" y1="724.40" x2="546.84" y2="724.40" stroke="#000" stroke-width="1.3"/>
<line x1="537.84" y1="741.10" x2="546.84" y2="741.10" stroke="#000" stroke-width="1.3"/>
<line x1="594.06" y1="707.60" x2="594.06" y2="717.80" stroke="#000" stroke-width="1.3"/>
<line x1="589.56" y1="707.60" x2="598.56" y2="707.60" stroke="#000" stroke-width="1.3"/>
<line x1="589.56" y1="717.80" x2="598.56" y2="717.80" stroke="#000" stroke-width="1.3"/>
<line x1="645.78" y1="749.00" x2="645.78" y2="761.40" stroke="#000" stroke-width="1.3"/>
<line x1="641.28" y1="749.00" x2="650.28" y2="749.00" stroke="#000" stroke-width="1.3"/>
<line x1="641.28" y1="761.40" x2="650.28" y2="761.40" stroke="#000" stroke-width="1.3"/>
<line x1="490.62" y1="792.40" x2="490.62" y2="801.80" stroke="#000" stroke-width="1.3"/>
<line x1="486.12" y1="792.40" x2="495.12" y2="792.40" stroke="#000" stroke-width="1.3"/>
<line x1="486.12" y1="801.80" x2="495.12" y2="801.80" stroke="#000" stroke-width="1.3"/>
<line x1="542.34" y1="777.10" x2="542.34" y2="800.00" stroke="#000" stroke-width="1.3"/>
<line x1="537.84" y1="777.10" x2="546.84" y2="777.10" stroke="#000" stroke-width="1.3"/>
<line x1="537.84" y1="800.00" x2="546.84" y2="800.00" stroke="#000" stroke-width="1.3"/>
<circle cx="438.90" cy="797.90" r="5.20" fill="#000"/>
<circle cx="490.62" cy="723.30" r="5.20" fill="#000"/>
<circle cx="542.34" cy="732.70" r="5.20" fill="#000"/>
<circle cx="594.06" cy="713.20" r="5.20" fill="#000"/>
<circle cx="645.78" cy="755.80" r="5.20" fill="#000"/>
<circle cx="438.90" cy="801.30" r="4.30" fill="#fff" stroke="#000" stroke-width="1.4"/>
<circle cx="490.62" cy="797.20" r="4.30" fill="#fff" stroke="#000" stroke-width="1.4"/>
<circle cx="542.34" cy="788.40" r="4.30" fill="#fff" stroke="#000" stroke-width="1.4"/>
<circle cx="594.06" cy="802.70" r="4.30" fill="#fff" stroke="#000" stroke-width="1.4"/>
<circle cx="645.78" cy="805.60" r="4.30" fill="#fff" stroke="#000" stroke-width="1.4"/>
<text x="439.40" y="788.60" text-anchor="middle" font-size="16" font-weight="normal" >a</text>
<text x="491.12" y="702.90" text-anchor="middle" font-size="16" font-weight="normal" >b</text>
<text x="542.84" y="716.70" text-anchor="middle" font-size="16" font-weight="normal" >b</text>
<text x="594.56" y="697.50" text-anchor="middle" font-size="16" font-weight="normal" >b</text>
<text x="646.28" y="742.70" text-anchor="middle" font-size="16" font-weight="normal" >c</text>
<text x="439.40" y="824.00" text-anchor="middle" font-size="16" font-weight="normal" >a</text>
<text x="491.12" y="818.90" text-anchor="middle" font-size="16" font-weight="normal" >a</text>
<text x="542.84" y="814.40" text-anchor="middle" font-size="16" font-weight="normal" >a</text>
<text x="594.56" y="824.80" text-anchor="middle" font-size="16" font-weight="normal" >a</text>
<text x="646.28" y="824.80" text-anchor="middle" font-size="16" font-weight="normal" >a</text>
</svg>
</body></html>
